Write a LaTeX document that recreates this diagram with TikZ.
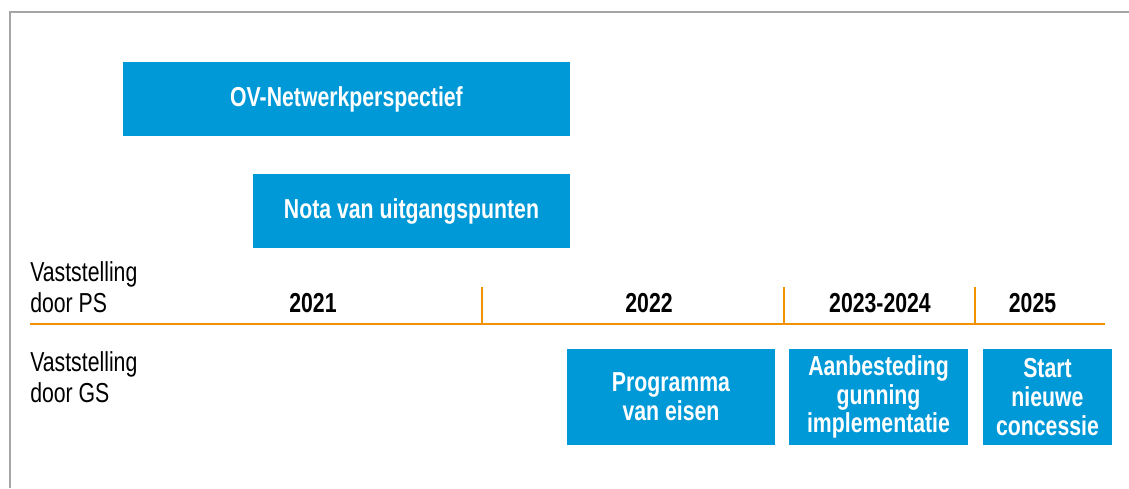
\documentclass[tikz,border=0pt]{standalone}
\usepackage{fontspec}
\setmainfont{Liberation Sans}[FakeStretch=0.775]
\definecolor{ovblue}{RGB}{0,153,216}
\definecolor{ovorange}{RGB}{243,146,0}
\definecolor{framegrey}{RGB}{165,165,165}
\begin{document}
\begin{tikzpicture}[x=0.025cm, y=-0.025cm,
    phasebox/.style={fill=ovblue, text=white, align=center, inner sep=0pt,
      font=\bfseries\fontsize{19.5}{20.5}\selectfont},
    yearlabel/.style={anchor=base, inner sep=0pt, font=\bfseries\fontsize{19.5}{20}\selectfont},
    rowlabel/.style={anchor=base west, align=left, inner sep=0pt, font=\fontsize{19.5}{22}\selectfont}]
    \useasboundingbox (0,0) rectangle (1129,488);
    % frame
    \draw[framegrey, line width=1.4pt] (1129,12) -- (10,12) -- (10,488);
    % upper bars
    \node[phasebox, minimum width=11.175cm, minimum height=1.85cm] (ovnp) at (346.5,99) {OV-Netwerkperspectief};
    \node[phasebox, minimum width=7.925cm, minimum height=1.85cm] (nota) at (411.5,211) {Nota van uitgangspunten};
    % row labels
    \node[rowlabel] (ps) at (30,312) {Vaststelling\\door PS};
    \node[rowlabel] (gs) at (30,402) {Vaststelling\\door GS};
    % time line
    \coordinate (tstart) at (30,324);
    \coordinate (tend) at (1105,324);
    \draw[ovorange, line width=2pt] (tstart) -- (tend);
    \foreach \x/\n in {482/a,784/b,975/c}{
      \coordinate (tick\n) at (\x,287);
      \draw[ovorange, line width=1.5pt] (tick\n) -- (tick\n |- tstart);
    }
    \foreach \x/\n/\yr in {313/a/2021,649/b/2022,880/c/2023-2024,1032.5/d/2025}{
      \node[yearlabel] (year\n) at (\x,312) {\yr};
    }
    % lower bars
    \foreach \x/\w/\n/\txt in {671/5.2/pve/{Programma\\van eisen},
        878.5/4.475/agi/{Aanbesteding\\gunning\\implementatie},
        1047.5/3.225/snc/{Start\\nieuwe\\concessie}}{
      \node[phasebox, minimum width=\w cm, minimum height=2.4cm] (\n) at (\x,397) {\txt};
    }
\end{tikzpicture}
\end{document}
